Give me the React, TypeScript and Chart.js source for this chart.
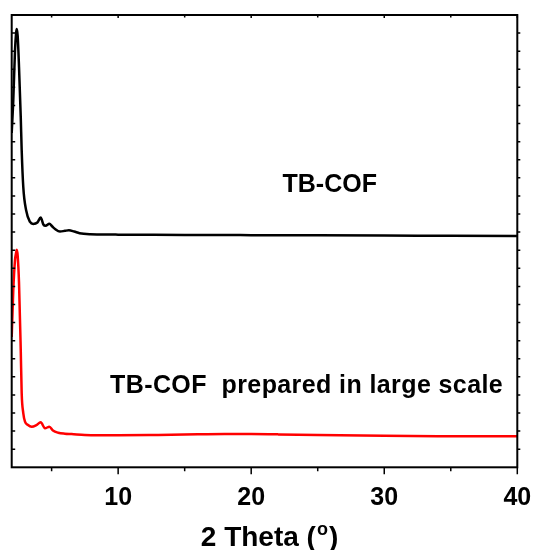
import React, { useEffect, useRef } from "react";
import { Chart, registerables } from "chart.js";

Chart.register(...registerables);

const X_MIN = 2;
const X_MAX = 40;
const Y_MIN = 0;
const Y_MAX = 25;

const blackX = [2.0, 2.12, 2.25, 2.33, 2.38, 2.45, 2.55, 2.68, 2.75, 2.87, 3.08, 3.38, 3.62, 3.93, 4.18, 4.38, 4.55, 4.83, 5.05, 5.26, 5.63, 6.0, 6.3, 6.7, 7.1, 7.9, 8.6, 10, 12, 15, 18, 20, 25, 30, 35, 40];
const blackY = [18.48, 20.3, 23.07, 24.0, 24.23, 23.84, 22.13, 19.37, 17.54, 15.5, 14.22, 13.56, 13.45, 13.53, 13.81, 13.42, 13.35, 13.46, 13.31, 13.17, 13.03, 13.07, 13.1, 13.03, 12.94, 12.88, 12.87, 12.86, 12.85, 12.84, 12.84, 12.83, 12.82, 12.81, 12.8, 12.79];

const redX = [2.0, 2.12, 2.25, 2.33, 2.38, 2.45, 2.55, 2.68, 2.75, 2.87, 3.0, 3.2, 3.5, 3.85, 4.18, 4.5, 4.83, 5.1, 5.5, 6.0, 6.5, 7.5, 10, 13, 16, 18, 20, 22, 25, 30, 35, 40];
const redY = [7.2, 9.8, 11.46, 11.85, 12.02, 11.69, 10.2, 6.49, 4.11, 3.0, 2.52, 2.35, 2.24, 2.33, 2.49, 2.16, 2.24, 2.03, 1.91, 1.86, 1.84, 1.79, 1.77, 1.79, 1.82, 1.84, 1.84, 1.82, 1.79, 1.74, 1.72, 1.71];

const seriesLabels = ["TB-COF", "TB-COF  prepared in large scale"];
const xMajorTicks = [10, 20, 30, 40];
const xMinorTicks = [5, 15, 25, 35];
const xAxisTitle = "2 Theta (";
const xAxisSup = "o";
const xAxisTitleEnd = ")";

const FONT = "'Liberation Sans', Arial, sans-serif";

const framePlugin = {
  id: "frameAndLabels",
  afterDraw(chart: any) {
    const ctx = chart.ctx;
    const { left, right, top, bottom } = chart.chartArea;
    const xs = chart.scales.x;
    const ys = chart.scales.y;
    ctx.save();
    ctx.strokeStyle = "#000";
    ctx.lineWidth = 2;
    ctx.strokeRect(left, top, right - left, bottom - top);
    ctx.lineWidth = 1.5;
    ctx.beginPath();
    for (let v = Y_MIN + 1; v < Y_MAX; v++) {
      const y = ys.getPixelForValue(v);
      ctx.moveTo(left, y);
      ctx.lineTo(left + 3.5, y);
      ctx.moveTo(right, y);
      ctx.lineTo(right + 3, y);
    }
    for (const v of xMinorTicks) {
      const x = xs.getPixelForValue(v);
      ctx.moveTo(x, bottom);
      ctx.lineTo(x, bottom + 4);
      ctx.moveTo(x, top);
      ctx.lineTo(x, top + 2.5);
    }
    for (const v of xMajorTicks) {
      const x = xs.getPixelForValue(v);
      ctx.moveTo(x, bottom);
      ctx.lineTo(x, bottom + 7);
      ctx.moveTo(x, top);
      ctx.lineTo(x, top + 3);
    }
    ctx.stroke();

    // series labels
    ctx.fillStyle = "#000";
    ctx.font = `bold 25px ${FONT}`;
    ctx.textBaseline = "alphabetic";
    ctx.textAlign = "center";
    ctx.fillText(seriesLabels[0], xs.getPixelForValue(25.9), ys.getPixelForValue(15.2));
    ctx.textAlign = "left";
    try { ctx.letterSpacing = "0.4px"; } catch (e) {}
    ctx.fillText(seriesLabels[1], xs.getPixelForValue(9.39), ys.getPixelForValue(4.09));
    try { ctx.letterSpacing = "0px"; } catch (e) {}

    // axis title with superscript
    const mainFont = `bold 28px ${FONT}`;
    const supFont = `bold 18px ${FONT}`;
    ctx.font = mainFont;
    const w1 = ctx.measureText(xAxisTitle).width;
    const w3 = ctx.measureText(xAxisTitleEnd).width;
    ctx.font = supFont;
    const w2 = ctx.measureText(xAxisSup).width;
    const total = w1 + w2 + w3 + 2;
    const cx = (left + right) / 2 + 5;
    let x0 = cx - total / 2;
    const base = 546;
    ctx.textAlign = "left";
    ctx.font = mainFont;
    ctx.fillText(xAxisTitle, x0, base);
    x0 += w1 + 1;
    ctx.font = supFont;
    ctx.fillText(xAxisSup, x0, base - 11);
    x0 += w2 + 1;
    ctx.font = mainFont;
    ctx.fillText(xAxisTitleEnd, x0, base);
    ctx.restore();
  },
};

export default function App() {
  const ref = useRef<HTMLCanvasElement | null>(null);
  useEffect(() => {
    if (!ref.current) return;
    const chart = new Chart(ref.current, {
      type: "line",
      data: {
        datasets: [
          {
            label: seriesLabels[0],
            data: blackX.map((x, i) => ({ x, y: blackY[i] })),
            borderColor: "#000000",
            borderWidth: 2.5,
            pointRadius: 0,
            cubicInterpolationMode: "monotone",
            fill: false,
          },
          {
            label: seriesLabels[1],
            data: redX.map((x, i) => ({ x, y: redY[i] })),
            borderColor: "#ff0000",
            borderWidth: 2.5,
            pointRadius: 0,
            cubicInterpolationMode: "monotone",
            fill: false,
          },
        ],
      },
      options: {
        responsive: false,
        animation: false,
        devicePixelRatio: 1,
        layout: { padding: { left: 11.7, top: 15, right: 18.7, bottom: 0 } },
        plugins: { legend: { display: false }, tooltip: { enabled: false } },
        scales: {
          x: {
            type: "linear",
            min: X_MIN,
            max: X_MAX,
            grid: { display: false, drawTicks: false },
            border: { display: false },
            ticks: {
              stepSize: 5,
              autoSkip: false,
              maxRotation: 0,
              padding: 16,
              color: "#000",
              font: { family: FONT, size: 25, weight: "bold" },
              callback: (v: any) => (xMajorTicks.includes(Number(v)) ? String(v) : ""),
            },
            afterFit: (scale: any) => {
              scale.height = 82.7;
              scale.paddingLeft = 0;
              scale.paddingRight = 0;
            },
          },
          y: {
            type: "linear",
            min: Y_MIN,
            max: Y_MAX,
            display: false,
          },
        },
      } as any,
      plugins: [framePlugin],
    });
    return () => chart.destroy();
  }, []);
  return (
    <div style={{ position: "fixed", left: 0, top: 0, width: 536, height: 550, background: "#fff" }}>
      <canvas ref={ref} width={536} height={550} style={{ width: 536, height: 550 }} />
    </div>
  );
}
